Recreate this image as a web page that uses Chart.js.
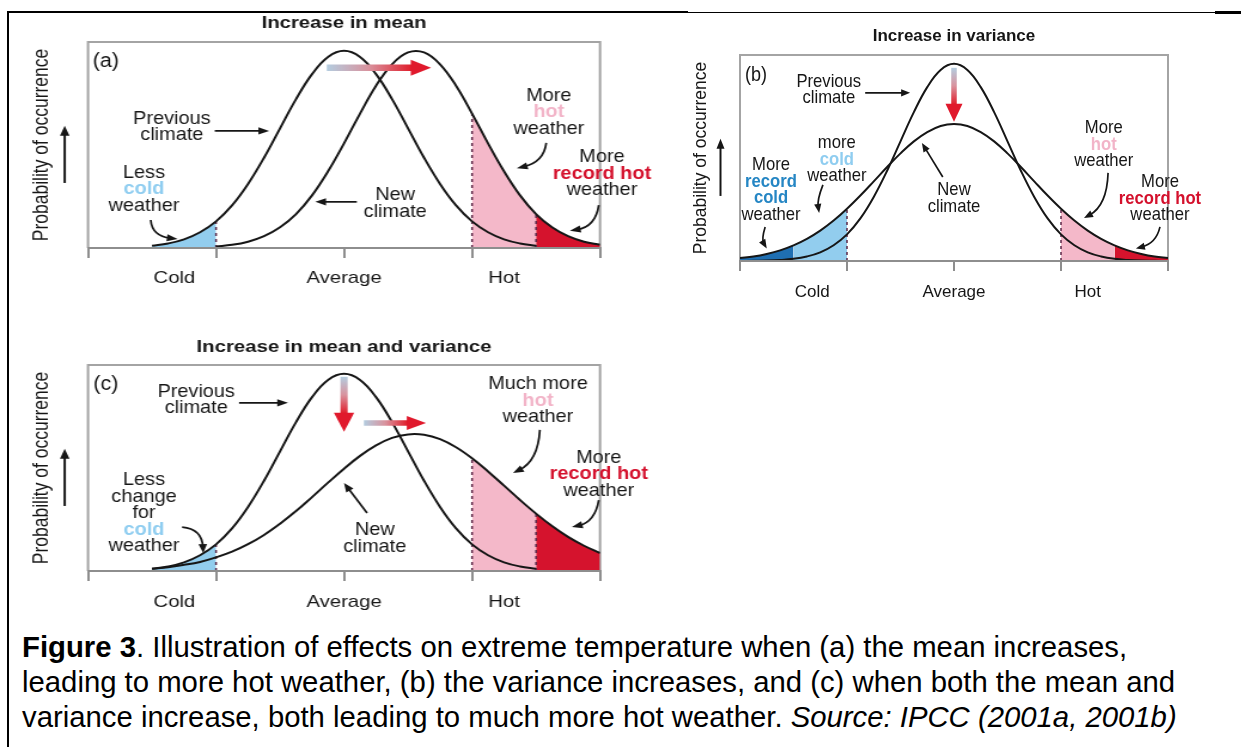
<!DOCTYPE html>
<html>
<head>
<meta charset="utf-8">
<title>Extreme temperature and climate change</title>
<script src="https://cdn.jsdelivr.net/npm/chart.js@4.4.1/dist/chart.umd.min.js"></script>
<style>
  html, body { margin: 0; padding: 0; background: #fff; }
  body { position: relative; width: 1241px; height: 747px; overflow: hidden; }
  .rule { position: absolute; background: #000; }
  .panel { position: absolute; transform-origin: 0 0; }
  .panel canvas { display: block; }
  /* (a) and (c) are printed wider than (b) */
  #panelA { left: 0; top: 0; transform: scaleX(1.196); }
  #panelB { left: 660px; top: 0; }
  #panelC { left: 0; top: 300px; transform: scaleX(1.196); }
  #caption {
    position: absolute; left: 22px; top: 629px;
    font: 29.3px/35px "Liberation Sans", Arial, sans-serif;
    color: #000; white-space: nowrap;
  }
</style>
</head>
<body>
<div class="rule" style="left:7px; top:11px; width:681px; height:2px"></div>
<div class="rule" style="left:688px; top:12px; width:527px; height:1px"></div>
<div class="rule" style="left:1215px; top:11px; width:26px; height:3px"></div>
<div class="rule" style="left:7px; top:11px; width:2px; height:736px"></div>

<div class="panel" id="panelA"><canvas id="chartA" width="552" height="300"></canvas></div>
<div class="panel" id="panelB"><canvas id="chartB" width="581" height="320"></canvas></div>
<div class="panel" id="panelC"><canvas id="chartC" width="552" height="320"></canvas></div>

<div id="caption"><b>Figure 3</b>. Illustration of effects on extreme temperature when (a) the mean increases,<br>leading to more hot weather, (b) the variance increases, and (c) when both the mean and<br>variance increase, both leading to much more hot weather. <i>Source: IPCC (2001a, 2001b)</i></div>

<script>
// Temperature, in standard deviations of the previous climate
const xs = [-4, -3.75, -3.5, -3.25, -3, -2.75, -2.5, -2.25, -2, -1.75, -1.5, -1.25, -1, -0.75, -0.5, -0.25,
  0, 0.25, 0.5, 0.75, 1, 1.25, 1.5, 1.75, 2, 2.25, 2.5, 2.75, 3, 3.25, 3.5, 3.75, 4];

// Probability of occurrence, % of the previous climate's peak (null = not drawn)
const previousClimate = [0.0, 0.1, 0.2, 0.5, 1.1, 2.3, 4.4, 8.0, 13.5, 21.6, 32.5, 45.8, 60.7, 75.5, 88.2, 96.9,
  100, 96.9, 88.2, 75.5, 60.7, 45.8, 32.5, 21.6, 13.5, 8.0, 4.4, 2.3, 1.1, 0.5, 0.2, 0.1, 0.0];
const newClimateMean = [null, null, null, null, null, null, null, null, 0.8, 1.6, 3.2, 6.0, 10.5, 17.2, 26.7, 38.9,
  53.1, 68.2, 82.3, 93.2, 99.2, 99.2, 93.2, 82.3, 68.2, 53.1, 38.9, 26.7, 17.2, 10.5, 6.0, 3.2, 1.6];
const newClimateVariance = [1.5, 2.3, 3.6, 5.4, 7.9, 11.2, 15.4, 20.5, 26.5, 33.2, 40.4, 47.7, 54.6, 60.7, 65.4, 68.5,
  69.5, 68.5, 65.4, 60.7, 54.6, 47.7, 40.4, 33.2, 26.5, 20.5, 15.4, 11.2, 7.9, 5.4, 3.6, 2.3, 1.5];
const newClimateBoth = [null, null, null, null, 1.2, 1.9, 3.1, 4.6, 6.9, 9.8, 13.6, 18.3, 24.0, 30.4, 37.5, 44.8,
  51.9, 58.4, 63.7, 67.5, 69.3, 69.1, 66.9, 62.8, 57.2, 50.5, 43.3, 36.0, 29.1, 22.8, 17.3, 12.8, 9.1];

const tickValues = [-4, -2, 0, 2, 4];
const zoneLabels = ['Cold', 'Average', 'Hot'];
const zoneLabelAt = [-2.65, 0, 2.5];

const coldLimit = -2;
const hotLimit = 2;
const recordColdLimit = -3;
const recordHotLimit = 3;

const FONT = '"Liberation Sans", Arial, sans-serif';
const INK = '#161616';
const FRAME = '#a4a4a4';
const AXIS = '#8e8e8e';
const LIMIT_LINE = '#5b2747';
const COLD_FILL = '#92cdee';
const RECORD_COLD_FILL = '#1f6fb2';
const HOT_FILL = '#f4b8c9';
const RECORD_HOT_FILL = '#d5132d';

const NOTE_SIZE = 18.5;
const NOTE_SQUEEZE = 0.9;
const LINE_STEP = 16.5;

const COLD_WORD = { t: 'cold', color: '#8fcdf0', bold: true };
const HOT_WORD = { t: 'hot', color: '#f2b4c8', bold: true };
const RECORD_HOT_WORD = { t: 'record hot', color: '#d4102c', bold: true };

function points(values, from, to) {
  return xs.map((x, i) => ({ x, y: values[i] }))
    .filter(p => p.y !== null && p.x >= from && p.x <= to);
}

function valueAt(values, x) {
  return values[xs.indexOf(x)];
}

function arrowHead(ctx, x, y, angle, len, half) {
  const c = Math.cos(angle), s = Math.sin(angle);
  ctx.beginPath();
  ctx.moveTo(x, y);
  ctx.lineTo(x - len * c + half * s, y - len * s - half * c);
  ctx.lineTo(x - len * c - half * s, y - len * s + half * c);
  ctx.closePath();
  ctx.fill();
}

function notesPlugin(panel) {
  return {
    id: 'figureNotes',
    beforeDatasetsDraw(chart) {
      const { ctx, chartArea: a } = chart;
      ctx.save();
      ctx.strokeStyle = FRAME;
      ctx.lineWidth = 2;
      ctx.beginPath();
      ctx.moveTo(a.left, a.bottom);
      ctx.lineTo(a.left, a.top);
      ctx.lineTo(a.right, a.top);
      ctx.lineTo(a.right, a.bottom);
      ctx.stroke();
      ctx.restore();
    },
    afterDraw(chart) {
      const { ctx, chartArea: a, scales } = chart;
      const px = v => scales.x.getPixelForValue(v);
      const py = v => scales.y.getPixelForValue(v);
      ctx.save();
      ctx.fillStyle = INK;
      ctx.strokeStyle = INK;

      // upward arrow beside the axis title
      const ax = a.left - 19.5;
      ctx.lineWidth = 2;
      ctx.beginPath();
      ctx.moveTo(ax, py(33));
      ctx.lineTo(ax, py(62) + 8);
      ctx.stroke();
      arrowHead(ctx, ax, py(62), -Math.PI / 2, 10, 4);

      ctx.textAlign = 'center';
      ctx.textBaseline = 'middle';

      // panel letter
      ctx.save();
      ctx.font = `20px ${FONT}`;
      ctx.translate(px(panel.letterAt[0]), py(panel.letterAt[1]));
      ctx.scale(NOTE_SQUEEZE, 1);
      ctx.fillText(panel.letter, 0, 0);
      ctx.restore();

      // labels
      panel.notes.forEach(note => {
        note.lines.forEach((ln, i) => {
          const w = typeof ln === 'string' ? { t: ln } : ln;
          ctx.save();
          ctx.font = `${w.bold ? 'bold ' : ''}${NOTE_SIZE}px ${FONT}`;
          ctx.fillStyle = w.color || INK;
          ctx.translate(px(note.at[0]), py(note.at[1]) + i * LINE_STEP);
          ctx.scale(NOTE_SQUEEZE, 1);
          ctx.fillText(w.t, 0, 0);
          ctx.restore();
        });
      });

      // straight pointers
      ctx.lineWidth = 1.7;
      panel.pointers.forEach(([p0, p1]) => {
        const x0 = px(p0[0]), y0 = py(p0[1]), x1 = px(p1[0]), y1 = py(p1[1]);
        const ang = Math.atan2(y1 - y0, x1 - x0);
        ctx.beginPath();
        ctx.moveTo(x0, y0);
        ctx.lineTo(x1 - 7 * Math.cos(ang), y1 - 7 * Math.sin(ang));
        ctx.stroke();
        arrowHead(ctx, x1, y1, ang, 9, 3.6);
      });

      // curved pointers
      panel.hooks.forEach(h => {
        const x0 = px(h.from[0]), y0 = py(h.from[1]);
        const cx = px(h.via[0]), cy = py(h.via[1]);
        const x1 = px(h.to[0]), y1 = py(h.to[1]);
        const ang = Math.atan2(y1 - cy, x1 - cx);
        ctx.beginPath();
        ctx.moveTo(x0, y0);
        ctx.quadraticCurveTo(cx, cy, x1 - 6 * Math.cos(ang), y1 - 6 * Math.sin(ang));
        ctx.stroke();
        arrowHead(ctx, x1, y1, ang, 9, 3.6);
      });

      // shift arrows, pale at the tail and red at the head
      panel.shifts.forEach(s => {
        const x0 = px(s.from[0]), y0 = py(s.from[1]);
        const x1 = px(s.to[0]), y1 = py(s.to[1]);
        const ang = Math.atan2(y1 - y0, x1 - x0);
        const hx = x1 - s.head * Math.cos(ang), hy = y1 - s.head * Math.sin(ang);
        const grad = ctx.createLinearGradient(x0, y0, hx, hy);
        grad.addColorStop(0, '#b4cde0');
        grad.addColorStop(0.5, '#d9939e');
        grad.addColorStop(1, '#e0212f');
        ctx.strokeStyle = grad;
        ctx.lineWidth = s.shaft;
        ctx.lineCap = 'butt';
        ctx.beginPath();
        ctx.moveTo(x0, y0);
        ctx.lineTo(hx + Math.cos(ang), hy + Math.sin(ang));
        ctx.stroke();
        ctx.fillStyle = '#e0192c';
        arrowHead(ctx, x1, y1, ang, s.head, s.half);
      });
      ctx.restore();
    }
  };
}

function makePanel(canvasId, panel) {
  const datasets = [];
  panel.curves.forEach(c => datasets.push({
    data: points(c.values, c.from, c.to),
    borderColor: INK, borderWidth: 2, tension: 0.4, pointRadius: 0, fill: false
  }));
  panel.limits.forEach(l => datasets.push({
    data: [{ x: l.at, y: 0 }, { x: l.at, y: valueAt(l.values, l.at) }],
    borderColor: LIMIT_LINE, borderWidth: 1.5, borderDash: [3, 3], pointRadius: 0, fill: false
  }));
  panel.shades.forEach(s => datasets.push({
    data: points(s.values, s.from, s.to),
    borderWidth: 0, borderColor: 'rgba(0,0,0,0)', backgroundColor: s.color,
    fill: 'origin', tension: 0.4, pointRadius: 0
  }));
  datasets.forEach(d => { d.xAxisID = 'x'; d.yAxisID = 'y'; });

  return new Chart(document.getElementById(canvasId), {
    type: 'line',
    data: { datasets },
    options: {
      responsive: false,
      animation: false,
      events: [],
      layout: { padding: { left: 0, right: panel.padRight, top: 0, bottom: 0 } },
      plugins: {
        legend: { display: false },
        tooltip: { enabled: false },
        title: {
          display: true,
          text: panel.title,
          fullSize: false,
          color: INK,
          font: { family: FONT, size: 17, weight: 'bold' },
          padding: panel.titlePad
        }
      },
      scales: {
        x: {
          type: 'linear', min: -4, max: 4, position: 'bottom', weight: 0,
          afterBuildTicks: axis => { axis.ticks = tickValues.map(value => ({ value })); },
          afterFit: axis => { axis.height = 10; },
          ticks: { display: false },
          grid: { drawOnChartArea: false, drawTicks: true, tickLength: 10, color: AXIS, lineWidth: 2 },
          border: { display: true, color: AXIS, width: 2, z: 1 }
        },
        zones: {
          type: 'linear', min: -4, max: 4, position: 'bottom', weight: 1,
          afterBuildTicks: axis => { axis.ticks = zoneLabelAt.map(value => ({ value })); },
          afterFit: axis => { axis.height = panel.labelBand; },
          ticks: {
            autoSkip: false, maxRotation: 0, padding: panel.labelPad, color: INK,
            font: { family: FONT, size: 17 },
            callback: (value, index) => zoneLabels[index]
          },
          grid: { display: false, drawTicks: false },
          border: { display: false }
        },
        y: {
          type: 'linear', min: 0, max: 104.5,
          afterFit: axis => { axis.width = panel.axisWidth; },
          ticks: { display: false },
          grid: { display: false, drawTicks: false },
          border: { display: false },
          title: {
            display: true, text: 'Probability of occurrence', color: INK,
            font: { family: FONT, size: 17.5 },
            padding: { top: panel.yTitlePad, bottom: 0 }
          }
        }
      }
    },
    plugins: [notesPlugin(panel)]
  });
}

// (a) Increase in mean
makePanel('chartA', {
  title: 'Increase in mean',
  letter: '(a)', letterAt: [-3.72, 94.4],
  curves: [
    { values: previousClimate, from: -3, to: 3 },
    { values: newClimateMean, from: -2, to: 4 }
  ],
  limits: [
    { values: previousClimate, at: coldLimit },
    { values: newClimateMean, at: hotLimit },
    { values: newClimateMean, at: recordHotLimit }
  ],
  shades: [
    { values: previousClimate, from: -3, to: coldLimit, color: COLD_FILL },
    { values: newClimateMean, from: hotLimit, to: recordHotLimit, color: HOT_FILL },
    { values: newClimateMean, from: recordHotLimit, to: 4, color: RECORD_HOT_FILL }
  ],
  notes: [
    { at: [-2.69, 65.5], lines: ['Previous', 'climate'] },
    { at: [-3.125, 38.1], lines: ['Less', COLD_WORD, 'weather'] },
    { at: [0.80, 26.9], lines: ['New', 'climate'] },
    { at: [3.20, 77.2], lines: ['More', HOT_WORD, 'weather'] },
    { at: [4.03, 46.2], lines: ['More', RECORD_HOT_WORD, 'weather'] }
  ],
  pointers: [
    [[-2.02, 59.4], [-1.17, 59.4]],
    [[0.20, 23.4], [-0.45, 23.4]]
  ],
  hooks: [
    { from: [-3.02, 14.2], via: [-3.0, 6.0], to: [-2.60, 4.6] },
    { from: [3.16, 53.3], via: [3.12, 43.5], to: [2.70, 40.5] },
    { from: [3.98, 21.8], via: [3.93, 10.8], to: [3.53, 8.8] }
  ],
  shifts: [
    { from: [-0.27, 91.4], to: [1.36, 91.4], shaft: 6.5, head: 17, half: 8 }
  ],
  padRight: 50.3, axisWidth: 73.6,
  titlePad: { top: 13, bottom: 8.6 },
  labelBand: 42, labelPad: 9.8, yTitlePad: 24.8
});

// (b) Increase in variance
makePanel('chartB', {
  title: 'Increase in variance',
  letter: '(b)', letterAt: [-3.70, 93.9],
  curves: [
    { values: previousClimate, from: -4, to: 4 },
    { values: newClimateVariance, from: -4, to: 4 }
  ],
  limits: [
    { values: newClimateVariance, at: coldLimit },
    { values: newClimateVariance, at: hotLimit }
  ],
  shades: [
    { values: newClimateVariance, from: -4, to: recordColdLimit, color: RECORD_COLD_FILL },
    { values: newClimateVariance, from: recordColdLimit, to: coldLimit, color: COLD_FILL },
    { values: newClimateVariance, from: hotLimit, to: recordHotLimit, color: HOT_FILL },
    { values: newClimateVariance, from: recordHotLimit, to: 4, color: RECORD_HOT_FILL }
  ],
  notes: [
    { at: [-2.34, 90.9], lines: ['Previous', 'climate'] },
    { at: [-2.19, 59.9], lines: ['more', COLD_WORD, 'weather'] },
    { at: [-3.42, 48.7], lines: ['More', { t: 'record', color: '#2586c4', bold: true },
      { t: 'cold', color: '#2586c4', bold: true }, 'weather'] },
    { at: [0, 36.0], lines: ['New', 'climate'] },
    { at: [2.80, 67.5], lines: ['More', HOT_WORD, 'weather'] },
    { at: [3.85, 40.1], lines: ['More', RECORD_HOT_WORD, 'weather'] }
  ],
  pointers: [
    [[-1.66, 85.3], [-0.82, 85.3]],
    [[-0.21, 42.6], [-0.60, 59.9]]
  ],
  hooks: [
    { from: [-2.45, 38.6], via: [-2.56, 31], to: [-2.52, 24.4] },
    { from: [-3.53, 17.3], via: [-3.60, 11], to: [-3.50, 6.4] },
    { from: [2.88, 44.7], via: [2.86, 28], to: [2.43, 21.8] },
    { from: [3.85, 17.3], via: [3.78, 9], to: [3.40, 6.4] }
  ],
  shifts: [
    { from: [0, 98.0], to: [0, 70.6], shaft: 5.5, head: 18, half: 8.5 }
  ],
  padRight: 73, axisWidth: 80,
  titlePad: { top: 25.8, bottom: 8.8 },
  labelBand: 49, labelPad: 10.8, yTitlePad: 30.8
});

// (c) Increase in mean and variance
makePanel('chartC', {
  title: 'Increase in mean and variance',
  letter: '(c)', letterAt: [-3.72, 94.4],
  curves: [
    { values: previousClimate, from: -3, to: 3 },
    { values: newClimateBoth, from: -3, to: 4 }
  ],
  limits: [
    { values: previousClimate, at: coldLimit },
    { values: newClimateBoth, at: hotLimit },
    { values: newClimateBoth, at: recordHotLimit }
  ],
  shades: [
    { values: previousClimate, from: -3, to: coldLimit, color: COLD_FILL },
    { values: newClimateBoth, from: hotLimit, to: recordHotLimit, color: HOT_FILL },
    { values: newClimateBoth, from: recordHotLimit, to: 4, color: RECORD_HOT_FILL }
  ],
  notes: [
    { at: [-2.31, 90.9], lines: ['Previous', 'climate'] },
    { at: [3.03, 94.9], lines: ['Much more', HOT_WORD, 'weather'] },
    { at: [3.98, 57.4], lines: ['More', RECORD_HOT_WORD, 'weather'] },
    { at: [-3.125, 46.2], lines: ['Less', 'change', 'for', COLD_WORD, 'weather'] },
    { at: [0.48, 20.8], lines: ['New', 'climate'] }
  ],
  pointers: [
    [[-1.64, 85.3], [-0.875, 85.3]],
    [[0.36, 29.4], [0.0, 44.7]]
  ],
  hooks: [
    { from: [3.06, 71.6], via: [3.03, 55.8], to: [2.64, 49.7] },
    { from: [3.98, 36.0], via: [3.92, 24.9], to: [3.56, 22.3] },
    { from: [-2.53, 22.3], via: [-2.22, 21.5], to: [-2.20, 9.1] }
  ],
  shifts: [
    { from: [0, 98.5], to: [0, 70.6], shaft: 6, head: 19, half: 8.5 },
    { from: [0.31, 75.1], to: [1.28, 75.1], shaft: 5.5, head: 16, half: 7 }
  ],
  padRight: 50.3, axisWidth: 73.6,
  titlePad: { top: 36.8, bottom: 7.8 },
  labelBand: 39, labelPad: 10.8, yTitlePad: 24.8
});
</script>
</body>
</html>
